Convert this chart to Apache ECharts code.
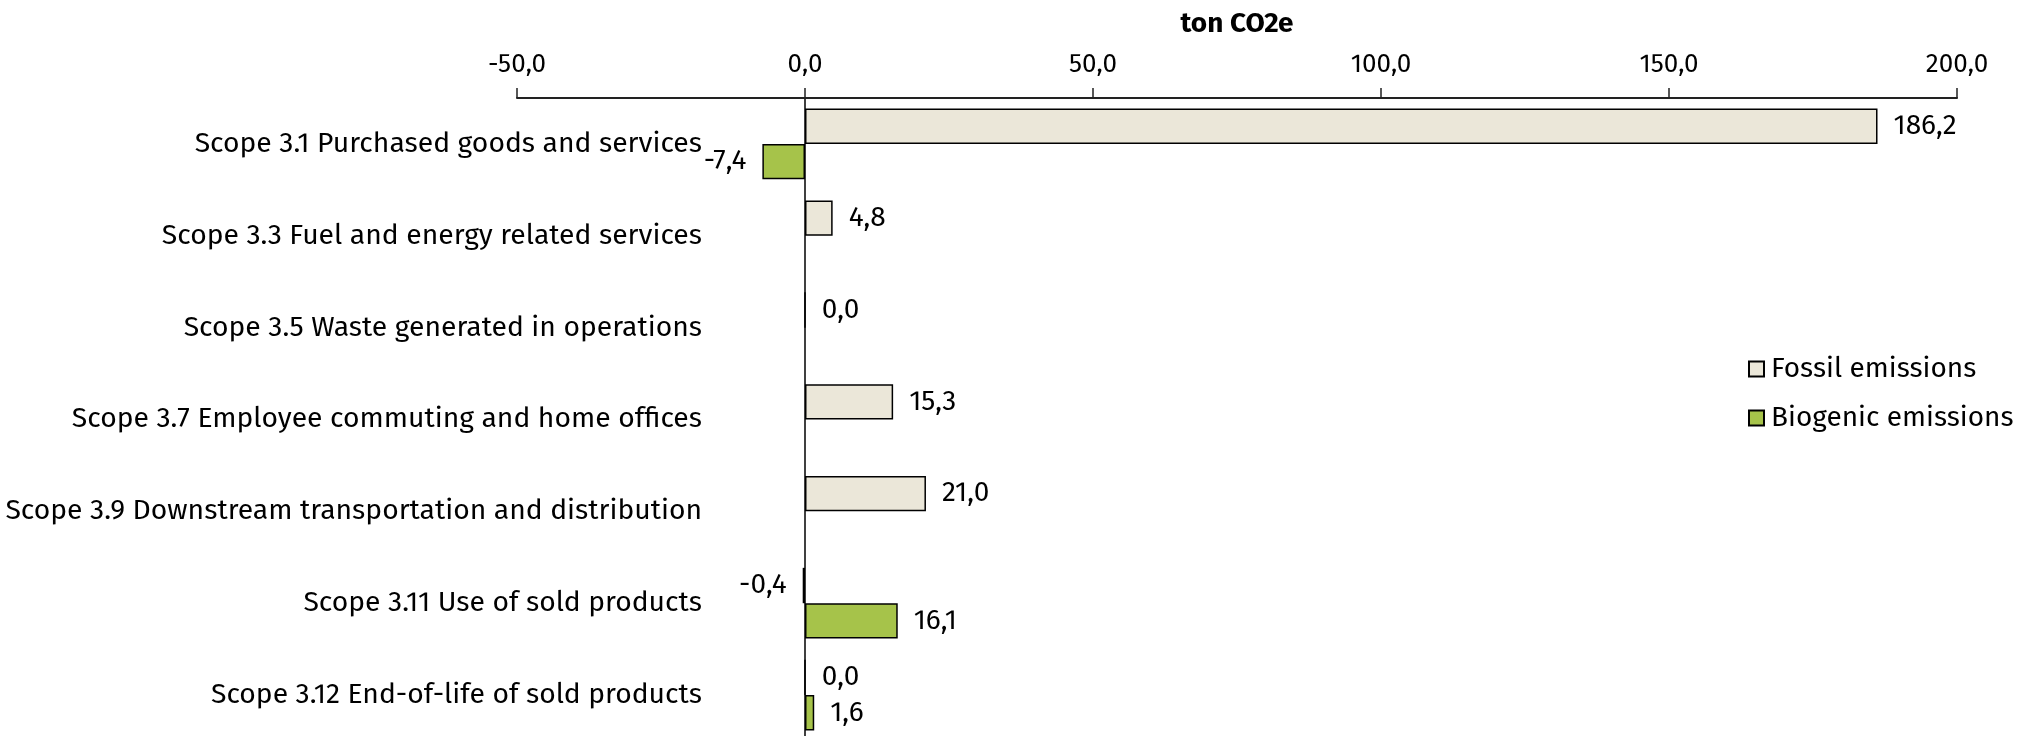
<!DOCTYPE html>
<html>
<head>
<meta charset="utf-8">
<script src="https://cdn.jsdelivr.net/npm/echarts@6/dist/echarts.min.js"></script>
<style>html,body{margin:0;padding:0;background:#fff;overflow:hidden}#c{width:2038px;height:736px}</style>
</head>
<body>
<div id="c"></div>
<script>
const categories = [
  'Scope 3.1 Purchased goods and services',
  'Scope 3.3 Fuel and energy related services',
  'Scope 3.5 Waste generated in operations',
  'Scope 3.7 Employee commuting and home offices',
  'Scope 3.9 Downstream transportation and distribution',
  'Scope 3.11 Use of sold products',
  'Scope 3.12 End-of-life of sold products'
];
const fossil = [186.2, 4.8, 0.0, 15.3, 21.0, -0.4, 0.0];
const biogenic = [-7.4, null, null, null, null, 16.1, 1.6];
const axisTitle = 'ton CO2e';

const font = '"Fira Sans", "Open Sans", "Noto Sans", sans-serif';
const fmt = v => v.toFixed(1).replace('.', ',');
const labelCfg = {
  show: true, distance: 16, color: '#000', fontSize: 28, fontFamily: font,
  formatter: p => fmt(p.value)
};
function mk(arr) {
  return arr.map(v => v === null ? null : {
    value: v,
    label: { position: v < 0 ? 'left' : 'right' }
  });
}
const chart = echarts.init(document.getElementById('c'));
chart.setOption({
  animation: false,
  backgroundColor: '#fff',
  grid: { left: 517, right: 81, top: 98, bottom: -5, containLabel: false, outerBoundsMode: 'none' },
  legend: {
    orient: 'vertical', left: 1743, top: 350, itemWidth: 15, itemHeight: 15, itemGap: 21,
    selectedMode: false, icon: 'rect',
    textStyle: { fontSize: 28, color: '#000', fontFamily: font, padding: [0, 0, 0, 2] },
    data: ['Fossil emissions', 'Biogenic emissions']
  },
  xAxis: {
    type: 'value', position: 'top', min: -50, max: 200, interval: 50,
    name: axisTitle, nameLocation: 'middle', nameGap: 60,
    nameTextStyle: { fontSize: 28, fontWeight: 'bold', color: '#000', fontFamily: font },
    axisLine: { show: true, lineStyle: { color: '#222', width: 2 } },
    axisTick: { show: true, length: 10, lineStyle: { color: '#222', width: 1.5 } },
    axisLabel: { formatter: v => fmt(v), fontSize: 26, color: '#000', margin: 20, fontFamily: font },
    splitLine: { show: false }
  },
  yAxis: {
    type: 'category', inverse: true, data: categories,
    axisLine: { show: true, onZero: true, lineStyle: { color: '#000', width: 1.5 } },
    axisTick: { show: false },
    axisLabel: { fontSize: 28.3, color: '#000', margin: -185, fontFamily: font }
  },
  series: [
    {
      name: 'Fossil emissions', type: 'bar', data: mk(fossil),
      barGap: '0%', barCategoryGap: '23%',
      itemStyle: { color: '#EBE7D9', borderColor: '#000', borderWidth: 1.5 },
      label: labelCfg
    },
    {
      name: 'Biogenic emissions', type: 'bar', data: mk(biogenic),
      barGap: '0%', barCategoryGap: '23%',
      itemStyle: { color: '#A6C34A', borderColor: '#000', borderWidth: 1.5 },
      label: labelCfg
    }
  ]
});
</script>
</body>
</html>
